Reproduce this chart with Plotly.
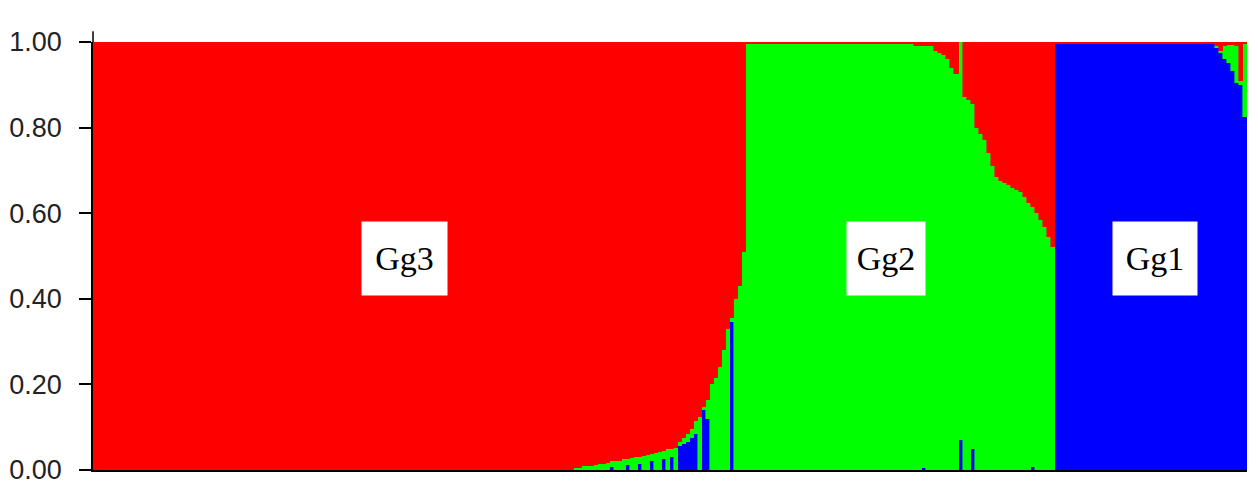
import plotly.graph_objects as go

# ---- membership coefficients (Q) per individual ----
# Cluster Gg3 individuals (163)
red_gg3 = [1.0] * 120 + [
    0.995, 0.995, 0.99, 0.99, 0.99, 0.988, 0.985, 0.985, 0.983, 0.98,
    0.98, 0.978, 0.975, 0.975, 0.972, 0.97, 0.97, 0.968, 0.965, 0.962,
    0.96, 0.958, 0.955, 0.952, 0.95, 0.948,
    0.935, 0.925, 0.915, 0.905, 0.885, 0.876, 0.853, 0.836, 0.80, 0.785,
    0.76, 0.72, 0.67, 0.645, 0.60, 0.57, 0.49]
green_gg3 = [0.0] * 120 + [
    0.005, 0.005, 0.01, 0.01, 0.01, 0.012, 0.015, 0.015, 0.017, 0.012,
    0.02, 0.022, 0.025, 0.013, 0.028, 0.03, 0.015, 0.032, 0.035, 0.018,
    0.04, 0.042, 0.02, 0.048, 0.02, 0.052,
    0.01, 0.015, 0.02, 0.02, 0.03, 0.124, 0.007, 0.044, 0.20, 0.215,
    0.24, 0.28, 0.33, 0.01, 0.40, 0.43, 0.51]
blue_gg3 = [0.0] * 120 + [
    0.0, 0.0, 0.0, 0.0, 0.0, 0.0, 0.0, 0.0, 0.0, 0.008,
    0.0, 0.0, 0.0, 0.012, 0.0, 0.0, 0.015, 0.0, 0.0, 0.02,
    0.0, 0.0, 0.025, 0.0, 0.03, 0.0,
    0.055, 0.06, 0.065, 0.075, 0.085, 0.0, 0.14, 0.12, 0.0, 0.0,
    0.0, 0.0, 0.0, 0.345, 0.0, 0.0, 0.0]

# Cluster Gg2 individuals (77)
red_gg2 = [0.005] * 42 + [0.01] * 5 + [
    0.02, 0.025, 0.03, 0.04, 0.06, 0.075, 0.0, 0.128, 0.135, 0.145,
    0.20, 0.215, 0.23, 0.26, 0.29, 0.315, 0.325, 0.33, 0.335, 0.34,
    0.345, 0.35, 0.362, 0.375, 0.386, 0.40, 0.415, 0.432, 0.456, 0.479]
green_gg2 = [0.995] * 42 + [0.99, 0.99, 0.985, 0.99, 0.99] + [
    0.98, 0.975, 0.97, 0.96, 0.94, 0.925, 0.93, 0.872, 0.865, 0.805,
    0.80, 0.785, 0.77, 0.74, 0.71, 0.685, 0.675, 0.67, 0.665, 0.66,
    0.655, 0.65, 0.638, 0.625, 0.606, 0.60, 0.585, 0.568, 0.544, 0.521]
blue_gg2 = [0.0] * 42 + [0.0, 0.0, 0.005, 0.0, 0.0] + [
    0.0, 0.0, 0.0, 0.0, 0.0, 0.0, 0.07, 0.0, 0.0, 0.05,
    0.0, 0.0, 0.0, 0.0, 0.0, 0.0, 0.0, 0.0, 0.0, 0.0,
    0.0, 0.0, 0.0, 0.0, 0.008, 0.0, 0.0, 0.0, 0.0, 0.0]

# Cluster Gg1 individuals (48)
red_gg1 = [0.005] * 40 + [0.01, 0.02, 0.01, 0.008, 0.008, 0.01, 0.09, 0.005]
green_gg1 = [0.0] * 40 + [0.005, 0.005, 0.03, 0.04, 0.06, 0.085, 0.01, 0.17]
blue_gg1 = [0.995] * 40 + [0.985, 0.975, 0.96, 0.952, 0.932, 0.905, 0.90, 0.825]

cluster_labels = ["Gg3", "Gg2", "Gg1"]
tick_vals = [0.0, 0.2, 0.4, 0.6, 0.8, 1.0]
tick_text = ["0.00", "0.20", "0.40", "0.60", "0.80", "1.00"]

red = red_gg3 + red_gg2 + red_gg1
green = green_gg3 + green_gg2 + green_gg1
blue = blue_gg3 + blue_gg2 + blue_gg1
individuals = list(range(len(red)))

fig = go.Figure()
for vals, col in [(blue, "#0000FF"), (green, "#00FF00"), (red, "#FF0000")]:
    fig.add_trace(go.Bar(
        x=individuals, y=vals,
        marker=dict(color=col, line=dict(width=0.6, color=col)),
        hoverinfo="skip", showlegend=False,
    ))

label_pos = [0.270, 0.687, 0.920]
label_w = [85, 78, 84]
for lab, xp, w in zip(cluster_labels, label_pos, label_w):
    fig.add_annotation(
        text=lab, xref="paper", yref="paper", x=xp, y=0.494,
        xanchor="center", yanchor="middle",
        showarrow=False, bgcolor="white", width=w, height=73, borderpad=0,
        font=dict(family="Liberation Serif, Times New Roman, serif", size=34, color="black"),
    )

# small extension of the y-axis line above the frame, as in the original
fig.add_shape(type="line", xref="paper", yref="paper", x0=0, x1=0, y0=1.0, y1=1.025,
              line=dict(color="black", width=1.5))

fig.update_layout(
    width=1258, height=484,
    margin=dict(l=93, r=11, t=42, b=14, autoexpand=False),
    barmode="stack", bargap=0,
    plot_bgcolor="white", paper_bgcolor="white",
    xaxis=dict(range=[-0.5, len(red) - 0.5], showticklabels=False, ticks="",
               showgrid=False, zeroline=False, showline=True, automargin=False,
               linecolor="black", linewidth=1.5),
    yaxis=dict(range=[0, 1], tickvals=tick_vals, ticktext=tick_text,
               ticks="outside", ticklen=12, tickwidth=1.5, tickcolor="black",
               showgrid=False, zeroline=False, showline=True, automargin=False,
               ticklabeloverflow="allow",
               linecolor="black", linewidth=1.5, ticklabelstandoff=12,
               tickfont=dict(family="Liberation Sans, Arial, sans-serif",
                             size=27, color="#222222")),
)

fig.write_html(
    "out.html",
    config={"displayModeBar": False},
    post_script="document.body.style.margin='0';document.body.style.overflow='hidden';",
)
